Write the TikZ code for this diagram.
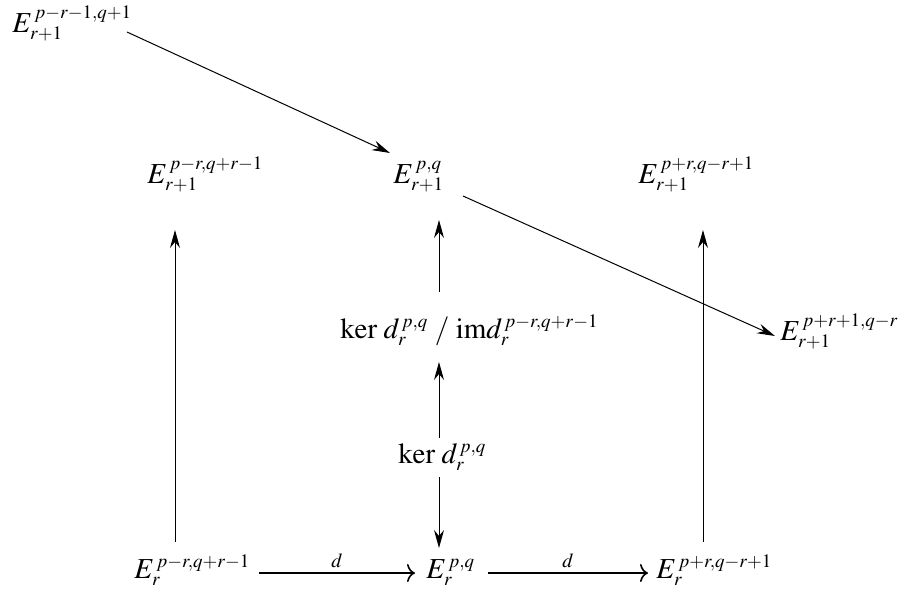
\documentclass[tikz,border=0pt]{standalone}
\usepackage{amsmath}
\usepackage{mathptmx}
\DeclareMathSizes{14.5}{14.5}{9.5}{7.5}
\usetikzlibrary{arrows.meta,calc}
% E with a small gap before the upper index
\newcommand{\Eidx}[2]{E_{#1}^{\mkern2mu#2}}

\begin{document}
\begin{tikzpicture}[x=0.5pt,y=-0.5pt,
  obj/.style={anchor=base west, inner sep=0pt,
              font=\fontsize{14.5}{17}\selectfont},
  arr/.style={draw, line width=0.5pt,
              -{Stealth[length=9pt,width=5pt,inset=3pt]}},
  hor/.style={draw, line width=0.8pt, -{To[length=4pt,width=9pt]}},
  lbl/.style={above, inner sep=2pt, font=\fontsize{10}{12}\selectfont}
]
\useasboundingbox (0,0) rectangle (905,591);
% E_{r+1} row
\node[obj] (etop) at (12,32)  {$\Eidx{r+1}{p-r-1,q+1}$};
\node[obj] (ml)   at (147,183) {$\Eidx{r+1}{p-r,q+r-1}$};
\node[obj] (mm)   at (393,183) {$\Eidx{r+1}{p,q}$};
\node[obj] (mr)   at (638,183) {$\Eidx{r+1}{p+r,q-r+1}$};
\node[obj] (efar) at (780,340) {$\Eidx{r+1}{p+r+1,q-r}$};
% kernel and quotient
\node[obj] (kim)  at (340,338) {$\ker\,d_r^{\mkern2mu p,q}\;/\;\mathrm{im} d_r^{\mkern2mu p-r,q+r-1}$};
\node[obj] (ker)  at (398,463) {$\ker\,d_r^{\mkern2mu p,q}$};
% E_r row
\node[obj] (bl)   at (134,578) {$\Eidx{r}{p-r,q+r-1}$};
\node[obj] (bm)   at (426,578) {$\Eidx{r}{p,q}$};
\node[obj] (br)   at (656,578) {$\Eidx{r}{p+r,q-r+1}$};

\draw[arr] ($(etop.base west)+(115,0)$) -- ($(mm.base west)+(-3,-30)$);
\draw[arr] ($(mm.base west)+(70,13)$) -- ($(efar.base west)+(-5,-4)$);
\draw[arr] ($(bl.base west)+(41,-36)$) -- ($(ml.base west)+(28,47)$);
\draw[arr] ($(br.base west)+(47,-36)$) -- ($(mr.base west)+(65,47)$);
\draw[arr] ($(kim.base west)+(99,-46)$) -- ($(mm.base west)+(46,37)$);
\draw[arr] ($(ker.base west)+(41,-25)$) -- ($(kim.base west)+(99,24)$);
\draw[arr] ($(ker.base west)+(41,14)$) -- ($(bm.base west)+(13,-30)$);
\draw[hor] ($(bl.base west)+(125,-5)$) -- node[lbl] {$d$} ($(bm.base west)+(-11,-5)$);
\draw[hor] ($(bm.base west)+(62,-5)$) -- node[lbl] {$d$} ($(br.base west)+(-8,-5)$);
\end{tikzpicture}
\end{document}
